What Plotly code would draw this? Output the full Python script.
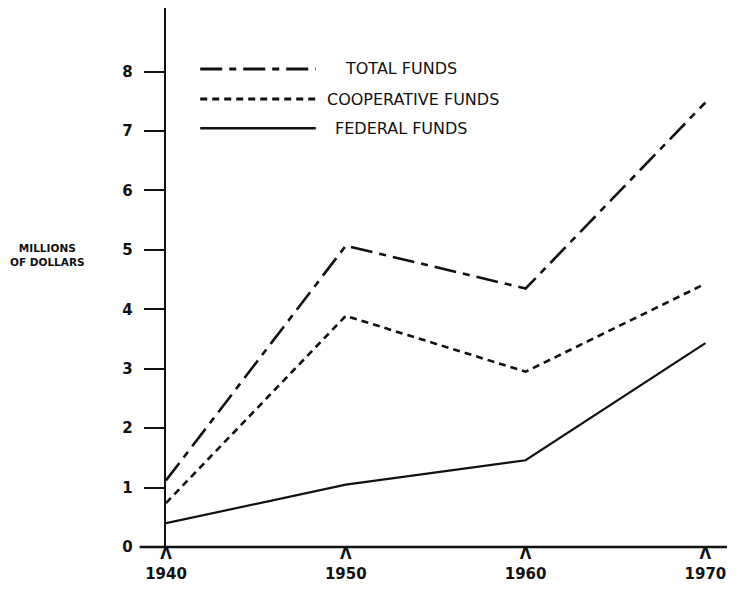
import plotly.graph_objects as go

# ---- data ----
years = [1940, 1950, 1960, 1970]
total_funds = [1.12, 5.07, 4.35, 7.48]
cooperative_funds = [0.74, 3.89, 2.95, 4.43]
federal_funds = [0.40, 1.05, 1.46, 3.43]
series_names = ["TOTAL FUNDS", "COOPERATIVE FUNDS", "FEDERAL FUNDS"]
y_ticks = [0, 1, 2, 3, 4, 5, 6, 7, 8]
x_tick_labels = ["1940", "1950", "1960", "1970"]

INK = "#111111"
dashes = ["22px,7px,7px,7px", "7px,5px", "solid"]
widths = [2.6, 2.6, 2.2]
series_values = [total_funds, cooperative_funds, federal_funds]

fig = go.Figure()
for name, vals, d, w in zip(series_names, series_values, dashes, widths):
    fig.add_trace(go.Scatter(
        x=years, y=vals, mode="lines", name=name,
        line=dict(color=INK, width=w, dash=d),
        showlegend=False,
    ))

# custom hand-drawn style legend (long sample lines)
legend_rows = [0.887, 0.831, 0.777]
legend_text_x = [0.316, 0.283, 0.298]
for name, d, w, yr, tx in zip(series_names, dashes, widths, legend_rows, legend_text_x):
    fig.add_shape(type="line", xref="paper", yref="paper",
                  x0=0.061, x1=0.267, y0=yr, y1=yr,
                  line=dict(color=INK, width=w + 0.4, dash=d))
    fig.add_annotation(xref="paper", yref="paper", x=tx, y=yr,
                       text=name, showarrow=False, xanchor="left", yanchor="middle",
                       font=dict(family="DejaVu Sans", size=16, color=INK))

# x-axis baseline extending a little left of the y-axis
fig.add_shape(type="line", xref="paper", yref="paper",
              x0=-0.047, x1=1.0, y0=0, y1=0,
              line=dict(color=INK, width=2.4))

# y-axis title
fig.add_annotation(xref="paper", yref="paper", x=-0.212, y=0.542,
                   text="<b>MILLIONS<br>OF DOLLARS</b>", showarrow=False,
                   xanchor="center", yanchor="middle", align="center",
                   font=dict(family="DejaVu Sans", size=10.5, color=INK))

fig.update_layout(
    width=736, height=582,
    margin=dict(l=158, r=17, t=0, b=43, autoexpand=False),
    paper_bgcolor="white", plot_bgcolor="white",
    font=dict(family="DejaVu Sans", color=INK),
    xaxis=dict(
        range=[1940, 1971.2], showgrid=False, zeroline=False, showline=False,
        automargin=False,
        tickmode="array", tickvals=years,
        ticktext=["<b>Λ</b><br><b>%s</b>" % t for t in x_tick_labels],
        ticks="", ticklabelstandoff=-4,
        tickfont=dict(size=15, color=INK, family="DejaVu Sans"),
    ),
    yaxis=dict(
        range=[0, 9.07], showgrid=False, zeroline=False,
        automargin=False,
        showline=True, linecolor=INK, linewidth=2.4,
        tickmode="array", tickvals=y_ticks,
        ticktext=["<b>%d</b>" % v for v in y_ticks],
        ticks="outside", ticklen=20, tickwidth=2, tickcolor=INK,
        ticklabelstandoff=8,
        tickfont=dict(size=15, color=INK, family="DejaVu Sans"),
    ),
)

fig.write_html("out.html")
